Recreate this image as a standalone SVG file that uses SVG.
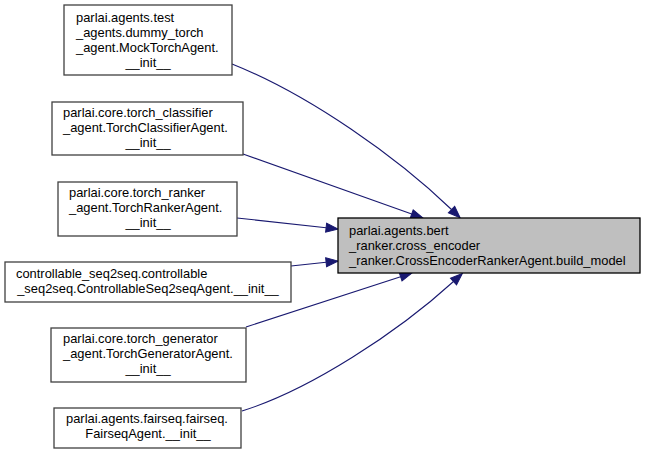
<svg xmlns="http://www.w3.org/2000/svg" width="645" height="455" viewBox="0 0 645 455">
<style>
  .n rect { fill: #ffffff; stroke: #404040; stroke-width: 1.3; }
  .c rect { fill: #bfbfbf; stroke: #000000; stroke-width: 1.3; }
  text { font-family: "Liberation Sans", Arial, sans-serif; font-size: 12.9px; fill: #000000; }
  .m { text-anchor: middle; }
  .e path { fill: none; stroke: #191970; stroke-width: 1.1; marker-end: url(#ah); }
</style>
<defs>
  <marker id="ah" markerUnits="userSpaceOnUse" markerWidth="14" markerHeight="10" refX="0" refY="4.5" orient="auto" viewBox="0 0 14 9" overflow="visible">
    <path d="M0,0 L12,4.5 L0,9 z" fill="#191970" stroke="#191970" stroke-width="1"/>
  </marker>
</defs>
<rect width="645" height="455" fill="#ffffff"/>
<g id="edges" class="e">
  <path d="M232,64 C310,95 398,158 451.5,209.5"/>
  <path d="M243,154 L411.7,214"/>
  <path d="M237,218 L326.1,227.7"/>
  <path d="M291,266 L326.1,262.3"/>
  <path d="M246,327 L400.6,276.7"/>
  <path d="M242,411 C310,390 398,332 453.5,281.5"/>
</g>
<g id="center" class="c">
  <rect x="338" y="218" width="302" height="55"/>
  <text x="349" y="235">parlai.agents.bert</text>
  <text x="349" y="250">_ranker.cross_encoder</text>
  <text x="349" y="265">_ranker.CrossEncoderRankerAgent.build_model</text>
</g>
<g id="mock" class="n">
  <rect x="64" y="5" width="168" height="70"/>
  <text x="76" y="22">parlai.agents.test</text>
  <text x="76" y="37">_agents.dummy_torch</text>
  <text x="76" y="52">_agent.MockTorchAgent.</text>
  <text x="148" y="67" class="m">__init__</text>
</g>
<g id="classifier" class="n">
  <rect x="52" y="102" width="191" height="53"/>
  <text x="63" y="117">parlai.core.torch_classifier</text>
  <text x="63" y="132">_agent.TorchClassifierAgent.</text>
  <text x="148" y="147" class="m">__init__</text>
</g>
<g id="ranker" class="n">
  <rect x="58" y="182" width="179" height="54"/>
  <text x="69" y="197">parlai.core.torch_ranker</text>
  <text x="69" y="212">_agent.TorchRankerAgent.</text>
  <text x="148" y="227" class="m">__init__</text>
</g>
<g id="controllable" class="n">
  <rect x="5" y="262" width="286" height="40"/>
  <text x="16" y="278">controllable_seq2seq.controllable</text>
  <text x="148" y="293" class="m">_seq2seq.ControllableSeq2seqAgent.__init__</text>
</g>
<g id="generator" class="n">
  <rect x="51" y="328" width="195" height="54"/>
  <text x="63" y="343">parlai.core.torch_generator</text>
  <text x="63" y="358">_agent.TorchGeneratorAgent.</text>
  <text x="148" y="373" class="m">__init__</text>
</g>
<g id="fairseq" class="n">
  <rect x="54" y="408" width="187" height="40"/>
  <text x="66" y="423">parlai.agents.fairseq.fairseq.</text>
  <text x="148" y="438" class="m">FairseqAgent.__init__</text>
</g>
</svg>
